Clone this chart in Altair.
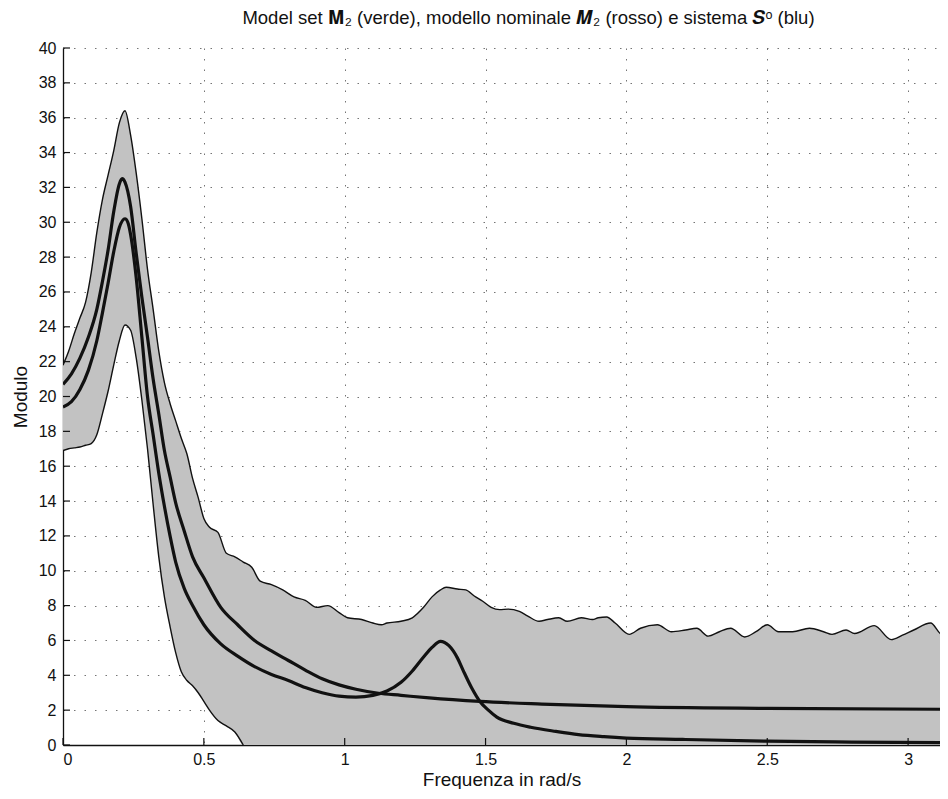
import altair as alt
import pandas as pd

# ---- data ----
band_x = [0.00, 0.02, 0.04, 0.06, 0.08, 0.10, 0.12, 0.14, 0.16, 0.18, 0.20, 0.22, 0.24, 0.26,
          0.28, 0.30, 0.32, 0.34, 0.36, 0.38, 0.40, 0.42, 0.44, 0.46, 0.48, 0.50, 0.52, 0.55,
          0.58, 0.61, 0.64,
          0.67, 0.70, 0.74, 0.78, 0.82, 0.86, 0.90, 0.94, 0.98, 1.01, 1.06, 1.10, 1.13, 1.15,
          1.20, 1.24, 1.28, 1.31, 1.34, 1.36, 1.40, 1.43, 1.46, 1.49, 1.52, 1.55, 1.58, 1.62,
          1.65, 1.69, 1.72, 1.76, 1.79, 1.84, 1.88, 1.90, 1.93, 1.96, 2.01, 2.05, 2.11, 2.16,
          2.21, 2.25, 2.29, 2.33, 2.37, 2.42, 2.46, 2.50, 2.54, 2.59, 2.65, 2.70, 2.73, 2.78,
          2.81, 2.88, 2.94, 2.98, 3.02, 3.08, 3.12, 3.14]
band_upper = [21.8, 22.6, 23.6, 24.5, 25.4, 27.1, 29.4, 31.3, 32.7, 34.1, 35.7, 36.4, 35.0, 32.8,
              30.2, 27.3, 25.0, 22.6, 20.8, 19.6, 18.6, 17.6, 16.7, 15.3, 14.2, 13.0, 12.5, 12.2,
              11.0, 10.8, 10.5,
              10.2, 9.4, 9.2, 8.9, 8.5, 8.3, 7.9, 8.0, 7.6, 7.3, 7.2, 7.0, 6.9, 7.0,
              7.1, 7.3, 7.9, 8.5, 8.9, 9.05, 8.95, 8.9, 8.55, 8.25, 7.9, 7.77, 7.8, 7.67,
              7.4, 7.1, 7.2, 7.3, 7.1, 7.3, 7.2, 7.3, 7.35, 7.0, 6.35, 6.7, 6.9, 6.5,
              6.6, 6.7, 6.25, 6.5, 6.7, 6.2, 6.5, 6.9, 6.5, 6.5, 6.7, 6.5, 6.35, 6.6,
              6.4, 6.85, 6.05, 6.3, 6.6, 7.0, 6.35, 6.8]
band_lower_head = [16.9, 17.0, 17.05, 17.1, 17.2, 17.3, 17.8, 19.0, 20.3, 21.8, 23.2, 24.1, 23.8, 22.2,
                   19.8, 17.0, 13.8, 10.8, 8.5, 6.8, 5.3, 4.2, 3.7, 3.4, 3.0, 2.5, 2.0, 1.4,
                   1.1, 0.75, 0.0]
band_lower = band_lower_head + [0.0] * (len(band_x) - len(band_lower_head))

# nominal / system curves (thick lines)
a_x = [0.00, 0.03, 0.06, 0.09, 0.12, 0.14, 0.16, 0.18, 0.20, 0.21, 0.22, 0.24, 0.26, 0.28, 0.30,
       0.32, 0.34, 0.36, 0.38, 0.40, 0.43, 0.46, 0.50, 0.56, 0.62, 0.68, 0.74, 0.80, 0.86, 0.92,
       0.98, 1.04, 1.12, 1.20, 1.30, 1.48, 1.70, 2.00, 2.50, 3.14]
a_y = [20.7, 21.3, 22.2, 23.4, 25.0, 26.6, 28.4, 30.6, 32.2, 32.5, 32.3, 30.9, 28.2, 25.7, 23.4,
       21.0, 19.0, 16.9, 15.4, 13.9, 12.3, 10.8, 9.6, 7.9, 6.9, 6.0, 5.4, 4.85, 4.3, 3.8,
       3.45, 3.2, 2.97, 2.85, 2.7, 2.5, 2.35, 2.2, 2.1, 2.05]

b_x = [0.00, 0.03, 0.06, 0.09, 0.12, 0.14, 0.16, 0.18, 0.20, 0.22, 0.23, 0.24, 0.26, 0.28, 0.30,
       0.32, 0.34, 0.36, 0.38, 0.40, 0.43, 0.46, 0.50, 0.56, 0.62, 0.68, 0.74, 0.80, 0.86, 0.92,
       0.98, 1.04, 1.10, 1.15, 1.20, 1.24, 1.28, 1.31, 1.34, 1.37, 1.40, 1.42, 1.45, 1.48, 1.51,
       1.54, 1.60, 1.66, 1.75, 1.83, 1.92, 2.00, 2.20, 2.50, 2.80, 3.14]
b_y = [19.4, 19.7, 20.4, 21.5, 23.2, 24.8, 26.5, 28.3, 29.7, 30.2, 30.0, 29.3, 26.8, 23.4, 20.0,
       17.8, 15.6, 13.7, 12.0, 10.5, 9.0, 8.0, 6.9, 5.8, 5.1, 4.5, 4.05, 3.7, 3.3, 3.0,
       2.8, 2.75, 2.85, 3.1, 3.6, 4.25, 5.05, 5.6, 5.95, 5.7, 5.0, 4.3, 3.3, 2.5, 2.0,
       1.6, 1.25, 1.02, 0.78, 0.6, 0.48, 0.4, 0.32, 0.22, 0.17, 0.13]

y_ticks = list(range(0, 41, 2))
x_ticks = [0, 0.5, 1, 1.5, 2, 2.5, 3]

title_text = "Model set  \U0001D40C\u2082 (verde), modello nominale \U0001D474\u2082 (rosso) e sistema \U0001D47A\u1D52 (blu)"

W, H = 877, 697
X_MAX = 877 / 281.7
FONT = "Liberation Sans"

band = pd.DataFrame({"x": band_x, "upper": band_upper, "lower": band_lower})
lower_df = pd.DataFrame({"x": band_x[:len(band_lower_head)], "y": band_lower_head})
a_df = pd.DataFrame({"x": a_x, "y": a_y})
b_df = pd.DataFrame({"x": b_x, "y": b_y})

xs = alt.Scale(domain=[0, X_MAX], nice=False, zero=False)
ys = alt.Scale(domain=[0, 40], nice=False)

x_axis = alt.Axis(values=x_ticks, title="Frequenza in rad/s", grid=True, ticks=False, tickSize=0,
                  labelPadding=6, titlePadding=3, format="~g", labelOverlap=False)
y_axis = alt.Axis(values=y_ticks, title="Modulo", grid=True, ticks=False, tickSize=0,
                  labelPadding=7, titlePadding=8, format="d", labelOverlap=False)


def X(field):
    return alt.X(field, scale=xs, axis=x_axis)


def Y(field):
    return alt.Y(field, scale=ys, axis=y_axis)


area = alt.Chart(band).mark_area(color="#c2c2c2", interpolate="monotone", clip=True).encode(
    x=X("x:Q"), y=Y("upper:Q"), y2="lower:Q")
upper_line = alt.Chart(band).mark_line(color="#111111", strokeWidth=1.4, interpolate="monotone", clip=True).encode(
    x=X("x:Q"), y=Y("upper:Q"))
lower_line = alt.Chart(lower_df).mark_line(color="#111111", strokeWidth=1.4, interpolate="monotone", clip=True).encode(
    x=X("x:Q"), y=Y("y:Q"))
a_line = alt.Chart(a_df).mark_line(color="#111111", strokeWidth=3.2, interpolate="monotone", clip=True).encode(
    x=X("x:Q"), y=Y("y:Q"))
b_line = alt.Chart(b_df).mark_line(color="#111111", strokeWidth=3.2, interpolate="monotone", clip=True).encode(
    x=X("x:Q"), y=Y("y:Q"))

ytick_df = pd.DataFrame({"v": y_ticks})
xtick_df = pd.DataFrame({"v": x_ticks})
ytick_marks = alt.Chart(ytick_df).mark_rule(color="#111111", strokeWidth=1.2).encode(
    y=Y("v:Q"), x=alt.value(0), x2=alt.value(7))
xtick_marks = alt.Chart(xtick_df).mark_rule(color="#111111", strokeWidth=1.2).encode(
    x=X("v:Q"), y=alt.value(H), y2=alt.value(H - 7))

chart = alt.layer(area, upper_line, lower_line, a_line, b_line, ytick_marks, xtick_marks).properties(
    width=W, height=H,
    title=alt.TitleParams(title_text, fontSize=18.5, font=FONT, fontWeight="normal", color="#111111",
                          offset=2, dx=27, dy=4, baseline="alphabetic"),
    autosize=alt.AutoSizeParams(type="none"),
    padding={"left": 55, "top": 40, "right": 0, "bottom": 44},
).configure_view(stroke=None).configure_axis(
    labelFont=FONT, titleFont=FONT, labelFontSize=16, titleFontSize=19,
    labelColor="#111111", titleColor="#111111", titleFontWeight="normal",
    domainColor="#111111", domainWidth=1.3,
    gridColor="#666666", gridDash=[1.5, 9], gridWidth=1, gridOpacity=0.9,
)

chart.save("out.html", embed_options={"renderer": "svg", "actions": False})
